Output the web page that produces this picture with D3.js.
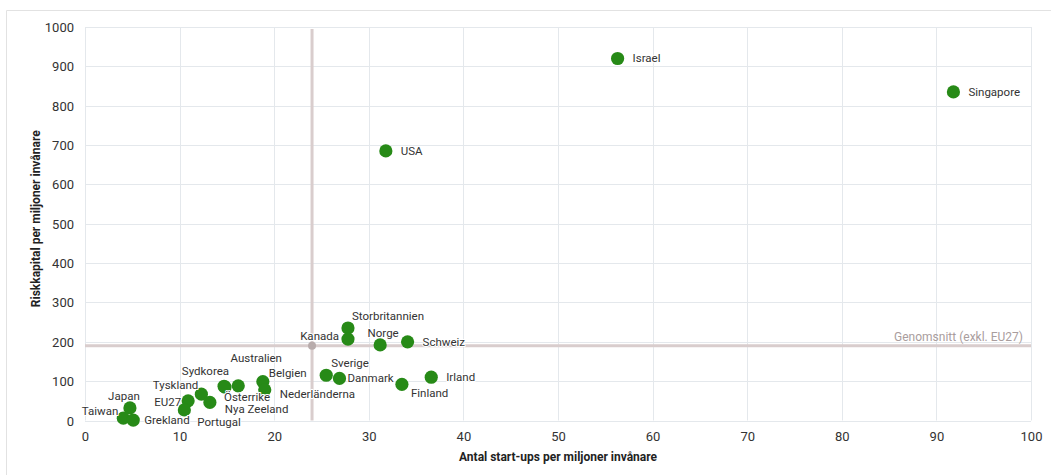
<!DOCTYPE html>
<html>
<head>
<meta charset="utf-8">
<script src="https://cdn.jsdelivr.net/npm/d3@7"></script>
<style>
  html, body { margin: 0; padding: 0; background: #fff; }
  svg { display: block; }
  text { font-family: Roboto, "Liberation Sans", sans-serif; }
</style>
</head>
<body>
<svg id="chart" width="1051" height="475"></svg>
<script>
// ---- Data ----
const countries = ["Israel","Singapore","USA","Storbritannien","Kanada","Norge","Schweiz","Sverige","Danmark","Finland","Irland","Belgien","Nederländerna","Australien","Österrike","Sydkorea","Tyskland","Nya Zeeland","EU27","Portugal","Japan","Taiwan","Grekland"];
const startups    = [56.3, 91.8, 31.8, 27.8, 27.8, 31.2, 34.1, 25.5, 26.9, 33.5, 36.6, 18.8, 19.0, 16.2, 14.8, 14.7, 12.3, 13.2, 10.9, 10.5, 4.75, 4.05, 5.1];
const riskkapital = [920, 835, 685, 235, 207, 192, 200, 115, 107, 92, 110, 99, 78, 88, 85, 87, 67, 46, 50, 27, 32, 6, 1];
const xTicks = [0,10,20,30,40,50,60,70,80,90,100];
const yTicks = [0,100,200,300,400,500,600,700,800,900,1000];
const avgStartups = 24.0;
const avgRiskkapital = 190;
const avgLabel = "Genomsnitt (exkl. EU27)";
const xTitle = "Antal start-ups per miljoner invånare";
const yTitle = "Riskkapital per miljoner invånare";

// label placement (layout only): [dx, dy, anchor]
const labelPlacement = {
  "Israel": [15, 0, "start"], "Singapore": [15, 0, "start"], "USA": [15, 0, "start"],
  "Storbritannien": [4, -12, "start"], "Kanada": [-9, -3, "end"], "Norge": [3, -12, "middle"],
  "Schweiz": [15, 0, "start"], "Sverige": [5, -12, "start"], "Danmark": [8, 0, "start"],
  "Finland": [9, 9, "start"], "Irland": [15, 0, "start"], "Belgien": [6, -9, "start"],
  "Nederländerna": [15, 4, "start"], "Australien": [18, -28, "middle"], "Österrike": [-1, 10, "start"],
  "Sydkorea": [5, -15, "end"], "Tyskland": [-3, -9, "end"], "Nya Zeeland": [15, 7, "start"],
  "EU27": [-7, 1, "end"], "Portugal": [13, 12, "start"], "Japan": [-6, -12, "middle"],
  "Taiwan": [-5, -7, "end"], "Grekland": [11, 0, "start"]
};

const points = countries.map((c, i) => ({ name: c, x: startups[i], y: riskkapital[i] }));

const svg = d3.select("#chart");
const x = d3.scaleLinear().domain([0, 100]).range([85, 1031]);
const y = d3.scaleLinear().domain([0, 1000]).range([420.5, 27]);

// outer frame
svg.append("path")
  .attr("d", `M6.5,475 L6.5,10.5 L1051,10.5`)
  .attr("fill", "none").attr("stroke", "#e2e2e2").attr("stroke-width", 1);

// grid
const grid = svg.append("g");
grid.selectAll(".gx").data(xTicks).join("line")
  .attr("x1", d => Math.round(x(d)) + 0.5).attr("x2", d => Math.round(x(d)) + 0.5)
  .attr("y1", y(1000)).attr("y2", y(0))
  .attr("stroke", "#e4e8ec").attr("stroke-width", 1);
grid.selectAll(".gy").data(yTicks).join("line")
  .attr("x1", x(0)).attr("x2", x(100))
  .attr("y1", d => Math.round(y(d)) + 0.5).attr("y2", d => Math.round(y(d)) + 0.5)
  .attr("stroke", "#e4e8ec").attr("stroke-width", 1);

// axes (labels only)
const xAxis = d3.axisBottom(x).tickValues(xTicks).tickFormat(d3.format("d")).tickSize(0).tickPadding(0);
const gx = svg.append("g").attr("transform", `translate(0,${y(0)})`).call(xAxis);
gx.select(".domain").remove();
gx.selectAll("text").attr("dy", null).attr("y", 16).attr("dominant-baseline", "central")
  .attr("font-size", 13).attr("fill", "#333").attr("font-family", "Roboto, sans-serif");

const yAxis = d3.axisLeft(y).tickValues(yTicks).tickFormat(d3.format("d")).tickSize(0).tickPadding(0);
const gy = svg.append("g").attr("transform", `translate(${x(0)},0)`).call(yAxis);
gy.select(".domain").remove();
gy.selectAll("text").attr("dy", null).attr("x", -11).attr("dominant-baseline", "central")
  .attr("font-size", 13).attr("fill", "#333").attr("font-family", "Roboto, sans-serif");

// average lines
const avgColor = "#d9cdcd";
svg.append("line")
  .attr("x1", x(0)).attr("x2", x(100))
  .attr("y1", y(avgRiskkapital)).attr("y2", y(avgRiskkapital))
  .attr("stroke", avgColor).attr("stroke-width", 3);
svg.append("line")
  .attr("x1", x(avgStartups)).attr("x2", x(avgStartups))
  .attr("y1", 29).attr("y2", y(0))
  .attr("stroke", avgColor).attr("stroke-width", 3);
svg.append("circle")
  .attr("cx", x(avgStartups)).attr("cy", y(avgRiskkapital)).attr("r", 4)
  .attr("fill", "#b8acac");
svg.append("text")
  .attr("x", x(100) - 8).attr("y", y(avgRiskkapital) - 9)
  .attr("text-anchor", "end").attr("dominant-baseline", "central")
  .attr("font-size", 12).attr("fill", "#a99d9d")
  .text(avgLabel);

// dots
svg.append("g").selectAll("circle").data(points).join("circle")
  .attr("cx", d => x(d.x)).attr("cy", d => y(d.y)).attr("r", 6.6)
  .attr("fill", "#278a17");

// labels
svg.append("g").selectAll("text").data(points).join("text")
  .attr("x", d => x(d.x) + labelPlacement[d.name][0])
  .attr("y", d => y(d.y) + labelPlacement[d.name][1])
  .attr("text-anchor", d => labelPlacement[d.name][2])
  .attr("dominant-baseline", "central")
  .attr("font-size", 11.5).attr("fill", "#333")
  .attr("stroke", "#fff").attr("stroke-width", 2).attr("paint-order", "stroke")
  .attr("stroke-linejoin", "round")
  .text(d => d.name);

// axis titles
svg.append("text")
  .attr("x", (x(0) + x(100)) / 2).attr("y", 457)
  .attr("text-anchor", "middle").attr("dominant-baseline", "central")
  .attr("font-size", 12).attr("font-weight", "bold").attr("fill", "#222")
  .attr("font-family", "'Liberation Sans Narrow', 'Roboto Condensed', Roboto, sans-serif")
  .text(xTitle);
svg.append("text")
  .attr("transform", `translate(36,${(y(0) + y(1000)) / 2 - 5}) rotate(-90)`)
  .attr("text-anchor", "middle").attr("dominant-baseline", "central")
  .attr("font-size", 12).attr("font-weight", "bold").attr("fill", "#222")
  .attr("font-family", "'Liberation Sans Narrow', 'Roboto Condensed', Roboto, sans-serif")
  .text(yTitle);
</script>
</body>
</html>
